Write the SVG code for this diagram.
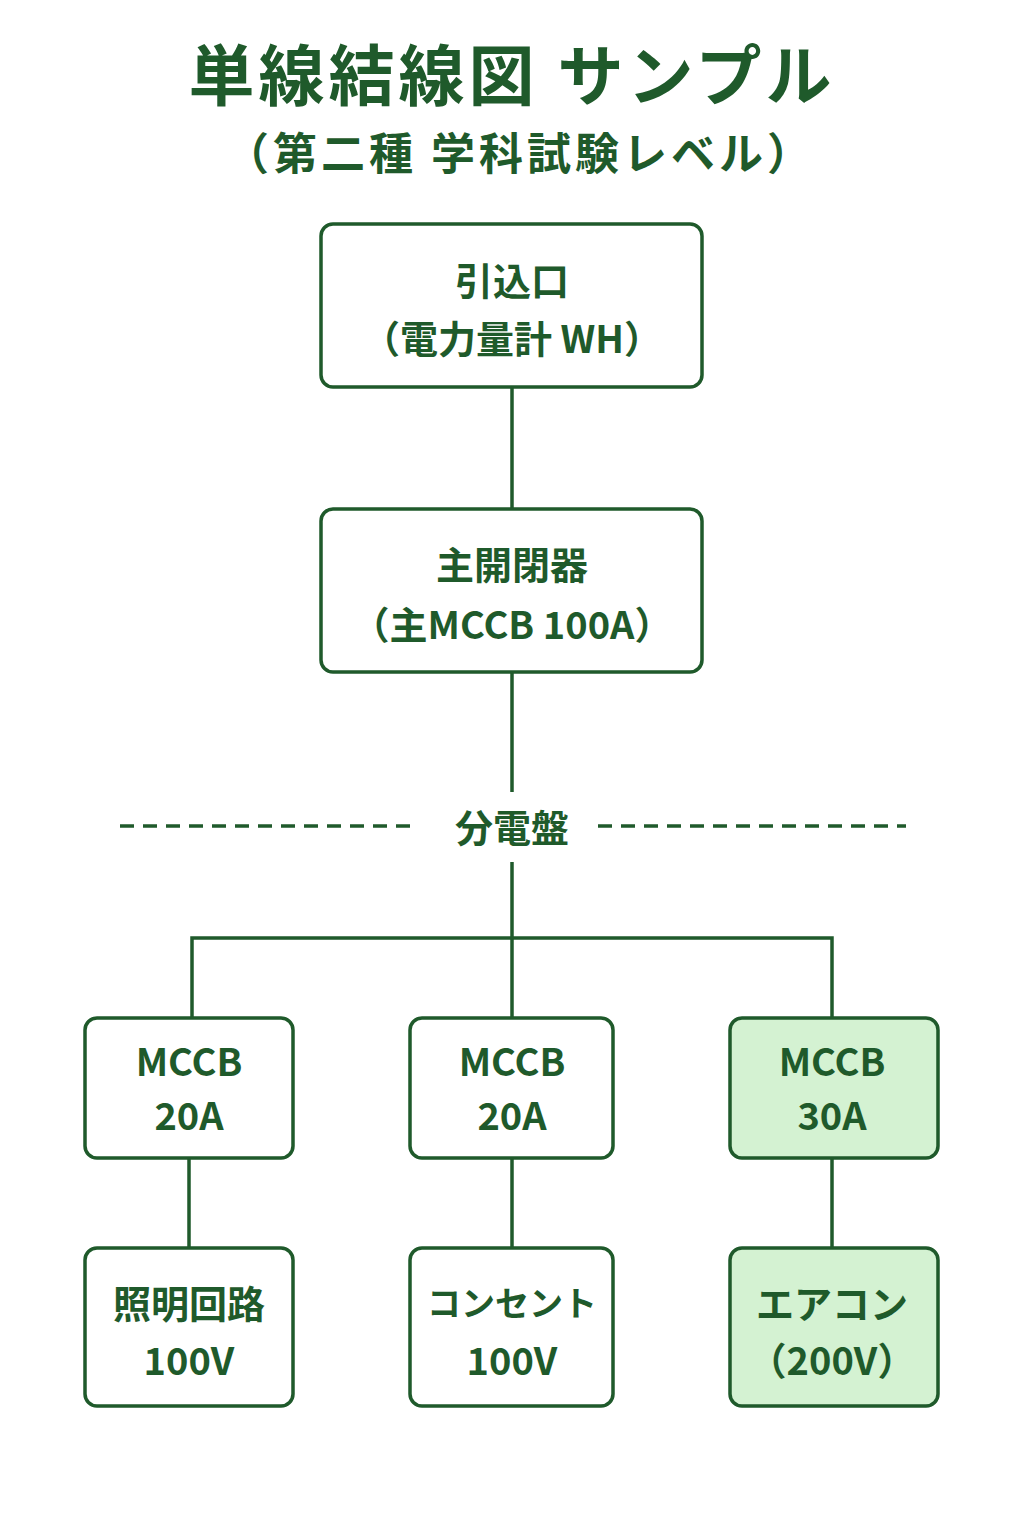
<svg xmlns="http://www.w3.org/2000/svg" width="1024" height="1536" viewBox="0 0 1024 1536">
<style>
text{font-family:"Noto Sans CJK JP","Noto Sans",sans-serif;font-weight:bold;fill:#1f5a2b;text-anchor:middle}
.box{fill:#fff;stroke:#1f5a2b;stroke-width:3.5}
.g{fill:#d4f2d2}
.ln{stroke:#1f5a2b;stroke-width:3.5;fill:none}
.t{font-size:38px}
</style>
<rect width="1024" height="1536" fill="#fff"/>
<text x="512" y="100" font-size="66" letter-spacing="4">単線結線図 サンプル</text>
<text x="520" y="170" font-size="44" letter-spacing="4">（第二種 学科試験レベル）</text>
<g id="connectors">
<path class="ln" d="M512 387V509M512 672V792M512 862V1018M192 1018V938H832V1018M189 1158V1248M512 1158V1248M832 1158V1248"/>
<path class="ln" stroke-dasharray="14 9" d="M120 826H412M598 826H906"/>
</g>
<g id="n1"><rect class="box" x="321" y="224" width="381" height="163" rx="12"/><text class="t" x="512" y="295">引込口</text><text class="t" x="512" y="353">（電力量計 WH）</text></g>
<g id="n2"><rect class="box" x="321" y="509" width="381" height="163" rx="12"/><text class="t" x="512" y="579">主開閉器</text><text class="t" x="512" y="639">（主MCCB 100A）</text></g>
<g id="panel"><text class="t" x="512" y="842">分電盤</text></g>
<g id="b1"><rect class="box" x="85" y="1018" width="208" height="140" rx="12"/><text class="t" x="189" y="1076">MCCB</text><text class="t" x="189" y="1130">20A</text></g>
<g id="b2"><rect class="box" x="410" y="1018" width="203" height="140" rx="12"/><text class="t" x="512" y="1076">MCCB</text><text class="t" x="512" y="1130">20A</text></g>
<g id="b3"><rect class="box g" x="730" y="1018" width="208" height="140" rx="12"/><text class="t" x="832" y="1076">MCCB</text><text class="t" x="832" y="1130">30A</text></g>
<g id="c1"><rect class="box" x="85" y="1248" width="208" height="158" rx="12"/><text class="t" x="189" y="1318">照明回路</text><text class="t" x="189" y="1375">100V</text></g>
<g id="c2"><rect class="box" x="410" y="1248" width="203" height="158" rx="12"/><text x="512" y="1316" font-size="34">コンセント</text><text class="t" x="512" y="1375">100V</text></g>
<g id="c3"><rect class="box g" x="730" y="1248" width="208" height="158" rx="12"/><text class="t" x="832" y="1318">エアコン</text><text class="t" x="832" y="1375">（200V）</text></g>
</svg>
